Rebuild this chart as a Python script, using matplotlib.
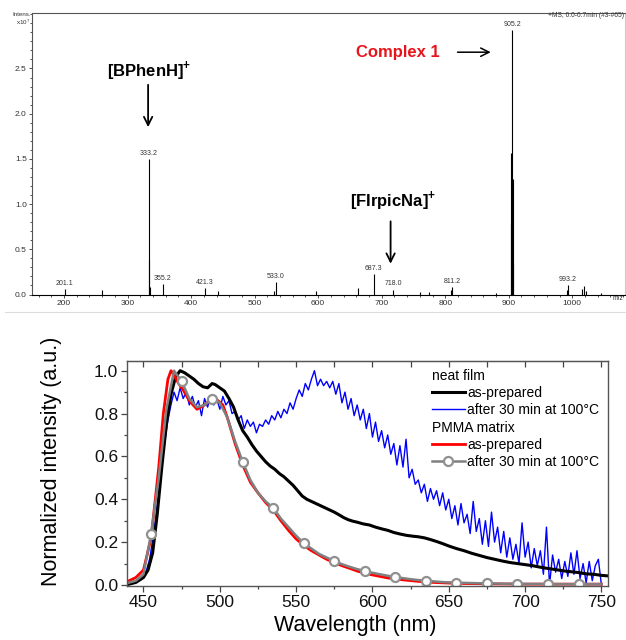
import matplotlib
matplotlib.use('Agg')
import matplotlib.pyplot as plt
from matplotlib.lines import Line2D
from matplotlib.ticker import MultipleLocator

plt.rcParams['font.family'] = ['Liberation Sans', 'DejaVu Sans']
plt.rcParams['mathtext.fontset'] = 'custom'
plt.rcParams['mathtext.rm'] = 'Liberation Sans'
plt.rcParams['mathtext.bf'] = 'Liberation Sans:bold'

# ---- mass spectrum (intensity in 1e7 counts)
ms_mz = [201.1, 260.1, 333.2, 334.2, 335.2, 355.2, 421.3, 443.1, 531.0, 533.0,
         597.0, 663.0, 687.3, 718.0, 760.0, 775.0, 809.0, 811.2, 880.0, 903.2,
         904.2, 905.2, 906.2, 907.2, 991.2, 993.2, 1016.0, 1018.0, 1022.0, 1045.0]
ms_int = [0.06, 0.05, 1.50, 0.38, 0.08, 0.12, 0.075, 0.04, 0.04, 0.14,
          0.04, 0.07, 0.23, 0.055, 0.025, 0.03, 0.05, 0.085, 0.02, 1.56,
          0.78, 2.92, 1.28, 0.34, 0.05, 0.10, 0.06, 0.09, 0.04, 0.02]
ms_labels = [201.1, 333.2, 355.2, 421.3, 533.0, 687.3, 718.0, 811.2, 905.2, 993.2]

# ---- PL spectra
wl_black = [440, 445, 450, 453, 456, 459, 462, 465, 468, 471, 474, 477, 480, 483, 486,
            489, 492, 495, 497, 500, 503, 506, 509, 512, 515, 518, 521, 524, 527, 530,
            533, 536, 539, 542, 545, 548, 551, 554, 557, 560, 563, 566, 569, 572, 575,
            578, 581, 584, 587, 590, 594, 598, 602, 606, 610, 614, 618, 622, 626, 630,
            634, 638, 642, 646, 650, 655, 660, 665, 670, 675, 680, 685, 690, 695, 700,
            705, 710, 715, 720, 725, 730, 735, 740, 745, 750, 755]
int_black = [0.003, 0.012, 0.035, 0.07, 0.15, 0.33, 0.55, 0.75, 0.89, 0.97, 1.00, 0.99, 0.975, 0.96, 0.94,
             0.925, 0.92, 0.94, 0.935, 0.92, 0.905, 0.87, 0.83, 0.77, 0.72, 0.69, 0.655, 0.625, 0.60, 0.575,
             0.555, 0.54, 0.52, 0.505, 0.485, 0.465, 0.44, 0.415, 0.40, 0.39, 0.38, 0.37, 0.36, 0.35, 0.34,
             0.328, 0.315, 0.305, 0.298, 0.293, 0.285, 0.28, 0.27, 0.262, 0.255, 0.245, 0.238, 0.232, 0.228, 0.225,
             0.22, 0.212, 0.203, 0.193, 0.182, 0.17, 0.16, 0.148, 0.138, 0.128, 0.12, 0.112, 0.105, 0.10, 0.095,
             0.09, 0.083, 0.077, 0.072, 0.066, 0.062, 0.058, 0.052, 0.05, 0.045, 0.042]

wl_blue = list(range(450, 752, 2))
int_blue = [0.04, 0.07, 0.12, 0.21, 0.31, 0.43, 0.56, 0.67, 0.77, 0.84,
            0.90, 0.86, 0.92, 0.87, 0.90, 0.84, 0.88, 0.83, 0.86, 0.79,
            0.87, 0.83, 0.88, 0.84, 0.87, 0.82, 0.88, 0.84, 0.86, 0.80,
            0.81, 0.77, 0.79, 0.73, 0.77, 0.74, 0.76, 0.71, 0.75, 0.74,
            0.77, 0.75, 0.79, 0.77, 0.81, 0.78, 0.82, 0.80, 0.85, 0.82,
            0.87, 0.91, 0.88, 0.94, 0.91, 0.96, 1.00, 0.93, 0.96, 0.93,
            0.95, 0.92, 0.95, 0.89, 0.94, 0.85, 0.90, 0.82, 0.87, 0.79,
            0.84, 0.77, 0.82, 0.73, 0.80, 0.69, 0.76, 0.67, 0.72, 0.64,
            0.70, 0.61, 0.66, 0.56, 0.65, 0.55, 0.68, 0.50, 0.54, 0.47,
            0.49, 0.43, 0.47, 0.39, 0.45, 0.40, 0.44, 0.37, 0.43, 0.35,
            0.40, 0.31, 0.37, 0.28, 0.38, 0.29, 0.33, 0.24, 0.39, 0.25,
            0.31, 0.19, 0.30, 0.18, 0.34, 0.20, 0.27, 0.15, 0.25, 0.13,
            0.22, 0.12, 0.19, 0.10, 0.29, 0.13, 0.20, 0.08, 0.17, 0.09,
            0.16, 0.05, 0.27, 0.00, 0.14, 0.06, 0.12, 0.03, 0.11, 0.04,
            0.15, 0.05, 0.16, 0.03, 0.10, 0.01, 0.11, 0.02, 0.09, 0.12,
            0.00]

wl_red = [440, 445, 450, 455, 460, 463, 466, 468, 470, 473, 476, 480, 485, 490, 495,
          498, 502, 505, 510, 515, 520, 525, 530, 535, 540, 545, 550, 555, 560, 565,
          570, 575, 580, 585, 590, 595, 600, 610, 620, 630, 640, 650, 660, 680, 700,
          720, 750]
int_red = [0.018, 0.035, 0.07, 0.22, 0.55, 0.80, 0.96, 1.00, 0.98, 0.94, 0.91, 0.86, 0.82, 0.84, 0.87,
           0.865, 0.84, 0.78, 0.66, 0.56, 0.48, 0.43, 0.385, 0.35, 0.30, 0.255, 0.215, 0.185, 0.16, 0.14,
           0.12, 0.105, 0.09, 0.078, 0.065, 0.055, 0.047, 0.033, 0.024, 0.017, 0.012, 0.009, 0.007, 0.005, 0.004,
           0.004, 0.004]

wl_gray = list(range(440, 755, 5))
int_gray = [0.01, 0.02, 0.05, 0.24, 0.50, 0.82, 1.00, 0.95, 0.87, 0.83, 0.84, 0.87, 0.85, 0.78, 0.67,
            0.575, 0.49, 0.43, 0.39, 0.36, 0.31, 0.27, 0.23, 0.195, 0.17, 0.145, 0.128, 0.112, 0.097, 0.085,
            0.074, 0.065, 0.057, 0.05, 0.043, 0.037, 0.032, 0.027, 0.023, 0.02, 0.017, 0.014, 0.012, 0.011, 0.01,
            0.009, 0.008, 0.007, 0.007, 0.006, 0.006, 0.006, 0.005, 0.005, 0.005, 0.004, 0.004, 0.004, 0.004, 0.004,
            0.004, 0.004, 0.004]

fig = plt.figure(figsize=(6.26, 6.4), dpi=100)

# ================= top: ESI mass spectrum
ax1 = fig.add_axes([0.0516, 0.5398, 0.9468, 0.4394])
ax1.vlines(ms_mz, 0, ms_int, color='black', lw=0.8)
ax1.set_xlim(150, 1083)
ax1.set_ylim(0, 3.11)
ax1.set_yticks([0.0, 0.5, 1.0, 1.5, 2.0, 2.5])
ax1.xaxis.set_major_locator(MultipleLocator(100))
ax1.xaxis.set_minor_locator(MultipleLocator(20))
ax1.yaxis.set_minor_locator(MultipleLocator(0.1))
ax1.tick_params(which='both', direction='out', labelsize=6, width=0.6, colors='#333333', pad=1.5)
ax1.tick_params(which='major', length=2.5)
ax1.tick_params(which='minor', length=1.5)
ax1.spines['left'].set_color('#555555')
ax1.spines['top'].set_color('#555555')
ax1.spines['right'].set_color('#cccccc')
ax1.spines['bottom'].set_color('black')
for s in ax1.spines.values():
    s.set_linewidth(0.8)

peak_lookup = dict(zip(ms_mz, ms_int))
for mz in ms_labels:
    ax1.annotate('%.1f' % mz, xy=(mz, peak_lookup[mz]), xytext=(0, 1.5),
                 textcoords='offset points', ha='center', va='bottom',
                 fontsize=5, color='#333333')

ax1.text(333.4, 2.48, r'[BPhenH]$^{\mathbf{+}}$', ha='center', va='center',
         fontsize=12, fontweight='bold')
ax1.annotate('', xy=(332.3, 1.82), xytext=(332.3, 2.35),
             arrowprops=dict(arrowstyle='->,head_length=0.5,head_width=0.25',
                             lw=1.3, color='black', mutation_scale=12))
ax1.text(726, 2.68, 'Complex 1', ha='center', va='center', fontsize=12,
         fontweight='bold', color='#e8141c')
ax1.annotate('', xy=(876, 2.68), xytext=(815, 2.68),
             arrowprops=dict(arrowstyle='->,head_length=0.5,head_width=0.25',
                             lw=1.1, color='black', mutation_scale=12))
ax1.text(718, 1.04, r'[FIrpicNa]$^{\mathbf{+}}$', ha='center', va='center',
         fontsize=12, fontweight='bold')
ax1.annotate('', xy=(714, 0.31), xytext=(714, 0.84),
             arrowprops=dict(arrowstyle='->,head_length=0.5,head_width=0.25',
                             lw=1.3, color='black', mutation_scale=12))

fig.text(30.7 / 626, 1 - 14.5 / 640, 'Intens.', ha='right', va='center', fontsize=4.5, color='#333333')
fig.text(30.7 / 626, 1 - 22 / 640, r'x10$^7$', ha='right', va='center', fontsize=4.5, color='#333333')
fig.text(624 / 626, 1 - 15.5 / 640, '+MS, 0.0-0.7min (#3-#65)', ha='right', va='center',
         fontsize=4.8, color='#333333')
fig.text(618 / 626, 1 - 299 / 640, 'm/z', ha='center', va='center', fontsize=4.8, color='#333333')
fig.add_artist(Line2D([5 / 626, 1.0], [1 - 312 / 640] * 2, color='#dddddd', lw=0.8,
                      transform=fig.transFigure))

# ================= bottom: PL spectra
ax2 = fig.add_axes([0.2024, 0.0836, 0.7693, 0.3523])
l_blue, = ax2.plot(wl_blue, int_blue, color='#0000ff', lw=1.0, label='after 30 min at 100°C')
l_black, = ax2.plot(wl_black, int_black, color='black', lw=2.2, label='as-prepared')
l_red, = ax2.plot(wl_red, int_red, color='#ff0000', lw=2.0, label='as-prepared')
l_gray, = ax2.plot(wl_gray, int_gray, color='#808080', lw=1.8, marker='o', markersize=6.5,
                   markerfacecolor='white', markeredgecolor='#909090', markeredgewidth=1.6,
                   markevery=(3, 4), label='after 30 min at 100°C')

ax2.set_xlim(439, 754.5)
ax2.set_ylim(-0.007, 1.045)
ax2.xaxis.set_major_locator(MultipleLocator(50))
ax2.xaxis.set_minor_locator(MultipleLocator(25))
ax2.yaxis.set_major_locator(MultipleLocator(0.2))
ax2.yaxis.set_minor_locator(MultipleLocator(0.1))
ax2.yaxis.set_major_formatter(matplotlib.ticker.FormatStrFormatter('%.1f'))
ax2.tick_params(which='both', direction='out', labelsize=12.5, width=0.9, colors='#444444',
                labelcolor='#111111', pad=2)
ax2.tick_params(which='major', length=4)
ax2.tick_params(which='minor', length=2.5)
for s in ax2.spines.values():
    s.set_color('#555555')
    s.set_linewidth(1.0)

sec = ax2.secondary_xaxis('top')
sec.xaxis.set_major_locator(MultipleLocator(50))
sec.xaxis.set_minor_locator(MultipleLocator(25))
sec.tick_params(which='both', direction='in', labeltop=False, length=4, width=0.9, colors='#444444')
sec.spines['top'].set_color('#555555')

ax2.set_xlabel('Wavelength (nm)', fontsize=15.5)
ax2.xaxis.set_label_coords(0.474, -0.126)
ax2.set_ylabel('Normalized intensity (a.u.)', fontsize=15.5)
ax2.yaxis.set_label_coords(-0.135, 0.557)

leg_kw = dict(frameon=False, fontsize=10, title_fontsize=10, alignment='left',
              handlelength=2.4, handletextpad=0.15, labelspacing=0.22, borderpad=0,
              borderaxespad=0, loc='upper left')
leg1 = ax2.legend(handles=[l_black, l_blue], title='neat film',
                  bbox_to_anchor=(0.633, 0.966), **leg_kw)
ax2.add_artist(leg1)
ax2.legend(handles=[l_red, l_gray], title='PMMA matrix',
           bbox_to_anchor=(0.633, 0.735), **leg_kw)

fig.savefig('out.png', dpi=100)
